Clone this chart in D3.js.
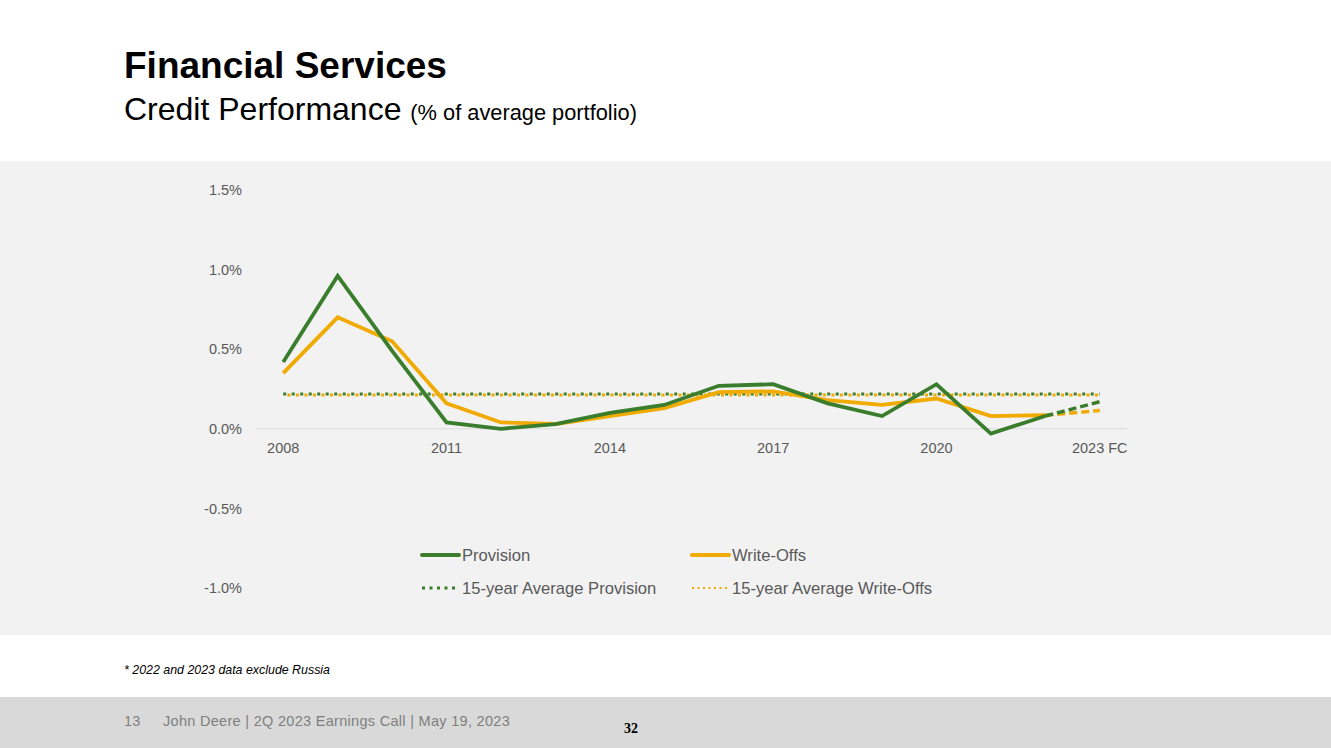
<!DOCTYPE html>
<html>
<head>
<meta charset="utf-8">
<script src="https://cdn.jsdelivr.net/npm/d3@7"></script>
<style>
  body { margin: 0; background: #fff; }
  svg { display: block; font-family: "Liberation Sans", Arial, sans-serif; }
</style>
</head>
<body>
<svg></svg>
<script>
let width = 1331, height = 748;

// Chart data (% of average portfolio)
const years = ["2008","2009","2010","2011","2012","2013","2014","2015","2016","2017","2018","2019","2020","2021","2022","2023 FC"];
const provision = [0.42, 0.96, 0.49, 0.04, 0.00, 0.03, 0.10, 0.15, 0.27, 0.28, 0.16, 0.08, 0.28, -0.03, 0.08, 0.17];
const writeOffs = [0.35, 0.70, 0.55, 0.16, 0.04, 0.03, 0.08, 0.13, 0.23, 0.235, 0.18, 0.15, 0.19, 0.08, 0.085, 0.115];
const avgProvision = 0.218;
const avgWriteOffs = 0.212;
const yTicks = [-1.0, -0.5, 0.0, 0.5, 1.0, 1.5];
const shownYears = ["2008", "2011", "2014", "2017", "2020", "2023 FC"];

const green = "#3a7d2c", orange = "#f0aa00", grey = "#595959";

let svg = d3.select("svg")
    .attr("width", width)
    .attr("height", height)
    .attr("viewBox", "0 0 " + width + " " + height);

// Backgrounds
svg.append("rect").attr("x", 0).attr("y", 161).attr("width", width).attr("height", 474).attr("fill", "#f2f2f2");
svg.append("rect").attr("x", 0).attr("y", 697).attr("width", width).attr("height", 51).attr("fill", "#d9d9d9");

// Titles
svg.append("text").attr("x", 124).attr("y", 78)
    .style("font-size", "37px").style("font-weight", "bold").attr("fill", "#000")
    .text("Financial Services");
let sub = svg.append("text").attr("x", 124).attr("y", 120).attr("fill", "#000");
sub.append("tspan").style("font-size", "32px").text("Credit Performance ");
sub.append("tspan").style("font-size", "21.8px").text("(% of average portfolio)");

// Scales
let x = d3.scaleBand().domain(years).range([256, 1127]);
let cx = d => x(d) + x.bandwidth() / 2;
let y = d3.scaleLinear().domain([-1.0, 1.5]).range([588, 190]);

// Y axis labels
let yAxis = svg.append("g")
    .attr("transform", "translate(242,0)")
    .call(d3.axisLeft(y).tickValues(yTicks).tickSize(0).tickPadding(0)
        .tickFormat(d => d.toFixed(1) + "%"));
yAxis.select(".domain").remove();
yAxis.selectAll("text")
    .attr("fill", grey)
    .style("font-size", "14.5px")
    .style("font-family", "'Liberation Sans', Arial, sans-serif");

// Zero line
svg.append("line")
    .attr("x1", 256).attr("x2", 1127)
    .attr("y1", y(0)).attr("y2", y(0))
    .attr("stroke", "#d9d9d9").attr("stroke-width", 1);

// X labels
let xAxis = svg.append("g")
    .attr("transform", "translate(0," + y(0) + ")")
    .call(d3.axisBottom(x).tickSize(0).tickPadding(14)
        .tickFormat(d => shownYears.includes(d) ? d : ""));
xAxis.select(".domain").remove();
xAxis.selectAll("text")
    .attr("fill", grey)
    .style("font-size", "14.5px")
    .style("font-family", "'Liberation Sans', Arial, sans-serif");

// Average lines
svg.append("line")
    .attr("x1", cx(years[0])).attr("x2", cx(years[years.length - 1]))
    .attr("y1", y(avgWriteOffs)).attr("y2", y(avgWriteOffs))
    .attr("stroke", orange).attr("stroke-width", 3)
    .attr("stroke-dasharray", "3,5.5").attr("stroke-dashoffset", -4.25);
svg.append("line")
    .attr("x1", cx(years[0])).attr("x2", cx(years[years.length - 1]))
    .attr("y1", y(avgProvision)).attr("y2", y(avgProvision))
    .attr("stroke", green).attr("stroke-width", 3)
    .attr("stroke-dasharray", "3,5.5");

// Series lines: solid through 2022, dashed to 2023 FC
let line = d3.line()
    .x((d, i) => cx(years[i]))
    .y(d => y(d));

function drawSeries(values, color) {
    let n = values.length;
    svg.append("path")
        .datum(values.slice(0, n - 1))
        .attr("fill", "none")
        .attr("stroke", color)
        .attr("stroke-width", 3.8)
        .attr("stroke-linejoin", "miter")
        .attr("d", line);
    svg.append("path")
        .attr("fill", "none")
        .attr("stroke", color)
        .attr("stroke-width", 3.5)
        .attr("stroke-dasharray", "8,4")
        .attr("d", d3.line()([[cx(years[n - 2]), y(values[n - 2])], [cx(years[n - 1]), y(values[n - 1])]]));
}
drawSeries(writeOffs, orange);
drawSeries(provision, green);

// Legend
const legendItems = [
    { label: "Provision", color: green, x: 422, y: 555, dash: null, w: 4 },
    { label: "Write-Offs", color: orange, x: 692, y: 555, dash: null, w: 4 },
    { label: "15-year Average Provision", color: green, x: 422, y: 588, dash: "3,4.5", w: 3 },
    { label: "15-year Average Write-Offs", color: orange, x: 692, y: 588, dash: "2,3.5", w: 2 }
];
let legend = svg.append("g").selectAll("g")
    .data(legendItems)
    .enter().append("g")
    .attr("transform", d => "translate(" + d.x + "," + d.y + ")");
legend.append("line")
    .attr("x1", 0).attr("x2", 37)
    .attr("stroke", d => d.color)
    .attr("stroke-width", d => d.w)
    .attr("stroke-linecap", d => d.dash ? "butt" : "round")
    .attr("stroke-dasharray", d => d.dash);
legend.append("text")
    .attr("x", 40).attr("dy", "0.35em")
    .attr("fill", grey)
    .style("font-size", "16.6px")
    .text(d => d.label);

// Footnote
svg.append("text").attr("x", 124).attr("y", 674)
    .style("font-size", "12.4px").style("font-style", "italic").attr("fill", "#000")
    .text("* 2022 and 2023 data exclude Russia");

// Footer
svg.append("text").attr("x", 124).attr("y", 726)
    .style("font-size", "14.5px").attr("fill", "#7f7f7f")
    .style("letter-spacing", "0.3px")
    .text("13");
svg.append("text").attr("x", 163).attr("y", 726)
    .style("font-size", "14.5px").attr("fill", "#7f7f7f")
    .style("letter-spacing", "0.3px")
    .text("John Deere | 2Q 2023 Earnings Call | May 19, 2023");
svg.append("text").attr("x", 624).attr("y", 733)
    .style("font-size", "14px").style("font-weight", "bold")
    .style("font-family", "'Liberation Serif', 'Times New Roman', serif")
    .attr("fill", "#000")
    .text("32");
</script>
</body>
</html>
